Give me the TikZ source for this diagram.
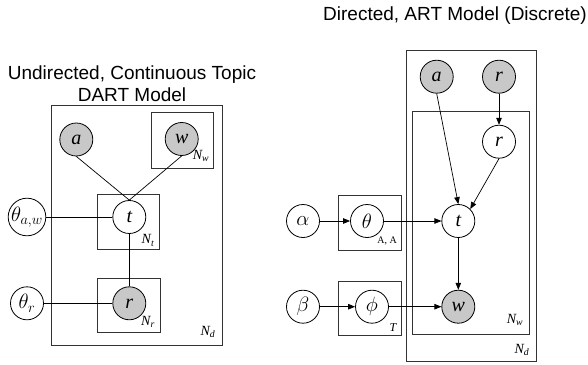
\documentclass[tikz,border=0pt]{standalone}
\usepackage{fontspec}
\setmainfont{Liberation Serif}
\newfontfamily\titlefont{Liberation Sans}
\usetikzlibrary{arrows.meta}
\definecolor{obsgray}{RGB}{200,200,200}
\tikzset{
  var/.style={circle,draw,line width=0.8pt,minimum size=33pt,inner sep=0pt,
    font=\fontsize{20}{20}\selectfont\itshape,fill=white},
  obs/.style={var,fill=obsgray},
  plate/.style={draw=black!80,line width=0.9pt},
  lbl/.style={font=\fontsize{14}{14}\selectfont\itshape,inner sep=0pt},
  edge/.style={line width=0.7pt},
  arr/.style={edge,-{Triangle[length=7pt,width=5.5pt]}},
  titletext/.style={font=\titlefont\fontsize{19}{22.7}\selectfont,inner sep=0pt}
}
\begin{document}
\begin{tikzpicture}[x=1pt,y=-1pt]
\useasboundingbox (0,0) rectangle (588,364);
% ---------- left panel ----------
\node[titletext,anchor=base] (ltitle1) at (132,79) {Undirected, Continuous Topic};
\node[titletext,anchor=base] (ltitle2) at (132,101.7) {DART Model};
\draw[plate] (51.7,105.7) rectangle (222.7,345.7);
\draw[plate] (151,112) rectangle (213,168);
\draw[plate] (97,194.5) rectangle (159.3,249);
\draw[plate] (97.7,278.3) rectangle (160,332.3);
\node[obs] (aL) at (76.3,139.5) {a};
\node[obs] (wL) at (181.7,139) {w};
\node[var] (tL) at (129.3,217) {t};
\node[obs] (rL) at (129.3,303.3) {r};
\node[var] (thaw) at (27,217) {$\theta_{a,w}$};
\node[var] (thr) at (27,303.3) {$\theta_r$};
\node[lbl] (nwL) at (201,156) {N\textsubscript{w}};
\node[lbl] (ntL) at (148,240.5) {N\textsubscript{t}};
\node[lbl] (nrL) at (148,322) {N\textsubscript{r}};
\node[lbl] (ndL) at (208,332) {N\textsubscript{d}};
\draw[edge] (aL.south) -- (tL.north);
\draw[edge] (wL.south) -- (tL.north);
\draw[edge] (thaw) -- (tL);
\draw[edge] (thr) -- (rL);
\draw[edge] (tL) -- (rL);
% ---------- right panel ----------
\node[titletext,anchor=base east] (rtitle) at (587,20.7) {Directed, ART Model (Discrete)};
\draw[plate] (406,50) rectangle (536.5,361.7);
\draw[plate] (412.5,111) rectangle (529.3,334.3);
\draw[plate] (338.7,195.7) rectangle (401,250);
\draw[plate] (338.7,281.7) rectangle (401,335.7);
\node[obs] (aR) at (436.7,76.7) {a};
\node[obs] (rtop) at (499,76.7) {r};
\node[var] (rin) at (499,141.7) {r};
\node[var] (tR) at (458.3,221) {t};
\node[obs] (wR) at (458.3,306.7) {w};
\node[var] (theta) at (367,221) {$\theta$};
\node[var] (phi) at (372,306.7) {$\phi$};
\node[var] (alpha) at (303,221) {$\alpha$};
\node[var] (beta) at (303,306.7) {$\beta$};
\node[inner sep=0pt,font=\fontsize{10}{10}\selectfont] (aalbl) at (387,241) {A, A};
\node[lbl,font=\fontsize{12}{12}\selectfont\itshape] (tlbl) at (393,328) {T};
\node[lbl] (nwR) at (515,320) {N\textsubscript{w}};
\node[lbl] (ndR) at (522,350) {N\textsubscript{d}};
\draw[arr] (aR.south) -- (tR.north);
\draw[arr] (rtop) -- (rin);
\draw[arr] (rin.south) -- (tR.north east);
\draw[arr] (theta) -- (tR);
\draw[arr] (tR) -- (wR);
\draw[arr] (phi) -- (wR);
\draw[arr] (alpha) -- (theta);
\draw[arr] (beta) -- (phi);
\end{tikzpicture}
\end{document}
